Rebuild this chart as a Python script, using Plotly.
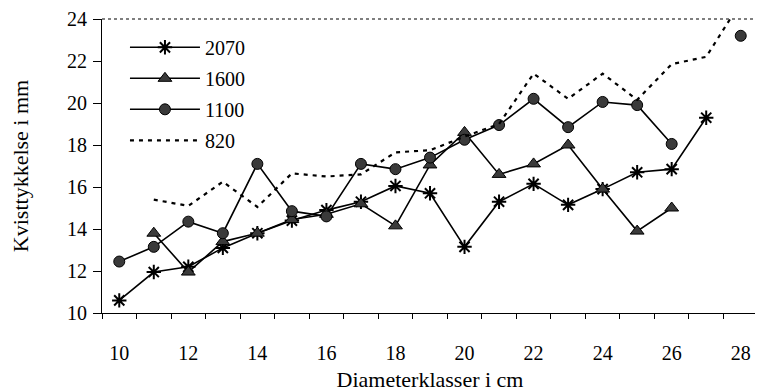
import plotly.graph_objects as go

x_ticklabels = [10, 12, 14, 16, 18, 20, 22, 24, 26, 28]
y_ticklabels = [10, 12, 14, 16, 18, 20, 22, 24]

# series values (None = no value)
s2070_x = list(range(10, 28))
s2070_y = [10.6, 11.95, 12.2, 13.1, 13.8, 14.4, 14.9, 15.3, 16.05, 15.7, 13.15, 15.3, 16.15, 15.15, 15.9, 16.7, 16.85, 19.3]

s1600_x = list(range(11, 27))
s1600_y = [13.8, 11.95, 13.4, 13.8, 14.45, 14.7, 15.2, 14.15, 17.05, 18.6, 16.6, 17.1, 18.0, 15.9, 13.9, 15.0]

s1100_x = list(range(10, 29))
s1100_y = [12.45, 13.15, 14.35, 13.8, 17.1, 14.85, 14.6, 17.1, 16.85, 17.4, 18.25, 18.95, 20.2, 18.85, 20.05, 19.9, 18.05, None, 23.2]

s820_x = list(range(11, 29))
s820_y = [15.4, 15.1, 16.25, 15.05, 16.65, 16.5, 16.6, 17.65, 17.75, 18.4, 19.0, 21.4, 20.2, 21.4, 20.15, 21.85, 22.2, 24.8]

font_family = "Liberation Serif, Times New Roman, serif"

fig = go.Figure()
fig.add_trace(go.Scatter(
    x=s2070_x, y=s2070_y, name="2070", mode="lines+markers", legendgroup="a",
    line=dict(color="black", width=1.6),
    marker=dict(symbol="asterisk-open", size=12, color="black", line=dict(color="black", width=2)),
))
fig.add_trace(go.Scatter(
    x=s1600_x, y=s1600_y, name="1600", mode="lines+markers", legendgroup="b",
    line=dict(color="black", width=1.6),
    marker=dict(symbol="triangle-up", size=12, color="#3a3a3a", line=dict(color="black", width=1)),
))
fig.add_trace(go.Scatter(
    x=s1100_x, y=s1100_y, name="1100", mode="lines+markers", legendgroup="c",
    line=dict(color="black", width=1.6),
    marker=dict(symbol="circle", size=11, color="#3a3a3a", line=dict(color="black", width=1)),
    connectgaps=False,
))
fig.add_trace(go.Scatter(
    x=s820_x, y=s820_y, name="820", mode="lines", legendgroup="d",
    line=dict(color="black", width=2.2, dash="4px,5px"),
))

# page body has an 8px default margin, so the figure is sized/offset to compensate
fig.update_layout(
    width=755, height=384,
    margin=dict(l=94, r=5, t=11, b=79),
    paper_bgcolor="white", plot_bgcolor="white",
    font=dict(family=font_family, size=20, color="black"),
    showlegend=True,
    legend=dict(
        x=0.035, y=0.97, xanchor="left", yanchor="top",
        bgcolor="rgba(0,0,0,0)", borderwidth=0,
        font=dict(family=font_family, size=20, color="black"),
        itemwidth=70, tracegroupgap=2,
    ),
    xaxis=dict(
        range=[9.5, 28.5], automargin=False,
        tickmode="array", tickvals=x_ticklabels, ticktext=[str(v) for v in x_ticklabels],
        ticks="", showgrid=False, zeroline=False,
        showline=True, linecolor="black", linewidth=1.2,
        minor=dict(tick0=9.5, dtick=1, ticks="outside", ticklen=5, tickcolor="black", tickwidth=1, showgrid=False),
        title=dict(text="Diameterklasser i cm", font=dict(size=22), standoff=12),
        ticklabelstandoff=22,
    ),
    yaxis=dict(
        range=[10, 24], automargin=False,
        tickmode="array", tickvals=y_ticklabels,
        ticks="outside", ticklen=8, tickcolor="black", tickwidth=1,
        showgrid=False, zeroline=False,
        showline=True, linecolor="black", linewidth=1.2,
        title=dict(text="Kvisttykkelse i mm", font=dict(size=22), standoff=33),
        ticklabelstandoff=2,
    ),
    shapes=[
        dict(type="line", xref="paper", yref="paper", x0=0, x1=1, y0=1, y1=1,
             line=dict(color="#555555", width=1.3, dash="dot")),
        dict(type="line", xref="paper", yref="paper", x0=1, x1=1, y0=0, y1=1,
             line=dict(color="#444444", width=1.5, dash="2px,2px")),
    ],
)

fig.write_html("out.html")
